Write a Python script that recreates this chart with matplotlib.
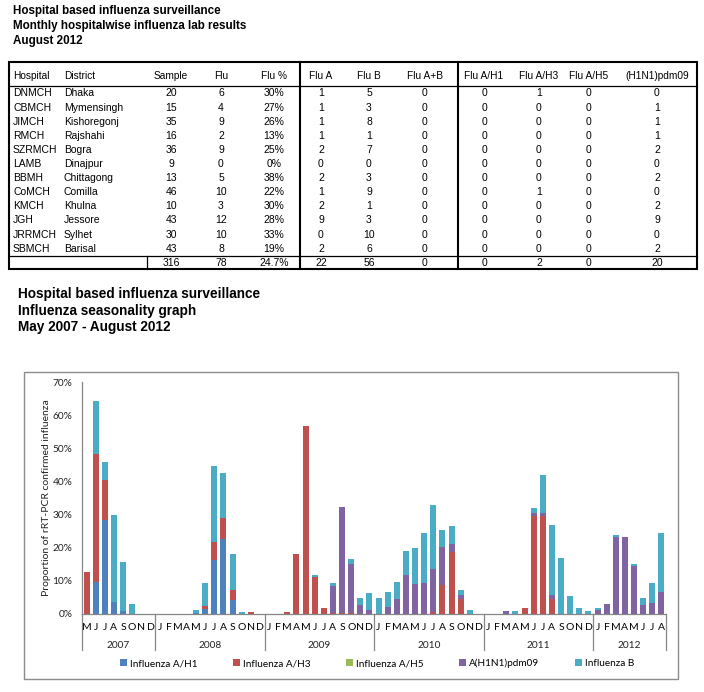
import numpy as np
import matplotlib.pyplot as plt
from matplotlib.patches import Rectangle
from matplotlib.transforms import blended_transform_factory

# --- table data (August 2012)
hospitals = ['DNMCH', 'CBMCH', 'JIMCH', 'RMCH', 'SZRMCH', 'LAMB', 'BBMH', 'CoMCH',
             'KMCH', 'JGH', 'JRRMCH', 'SBMCH']
districts = ['Dhaka', 'Mymensingh', 'Kishoregonj', 'Rajshahi', 'Bogra', 'Dinajpur',
             'Chittagong', 'Comilla', 'Khulna', 'Jessore', 'Sylhet', 'Barisal']
sample = [20, 15, 35, 16, 36, 9, 13, 46, 10, 43, 30, 43]
flu = [6, 4, 9, 2, 9, 0, 5, 10, 3, 12, 10, 8]
flu_pct = ['30%', '27%', '26%', '13%', '25%', '0%', '38%', '22%', '30%', '28%', '33%', '19%']
flu_a = [1, 1, 1, 1, 2, 0, 2, 1, 2, 9, 0, 2]
flu_b = [5, 3, 8, 1, 7, 0, 3, 9, 1, 3, 10, 6]
flu_ab = [0] * 12
flu_h1 = [0] * 12
flu_h3 = [1, 0, 0, 0, 0, 0, 0, 1, 0, 0, 0, 0]
flu_h5 = [0] * 12
flu_pdm = [0, 1, 1, 1, 2, 0, 2, 0, 2, 9, 0, 2]
total_pct = '24.7%'

headers = ['Hospital', 'District', 'Sample', 'Flu', 'Flu %', 'Flu A', 'Flu B', 'Flu A+B',
           'Flu A/H1', 'Flu A/H3', 'Flu A/H5', '(H1N1)pdm09']

# --- seasonality graph data, % of samples, May 2007 - Aug 2012
years = ['2007', '2008', '2009', '2010', '2011', '2012']
month_letters = list('MJJASOND') + list('JFMAMJJASOND') * 4 + list('JFMAMJJA')

h1 = [0, 9.5, 28.4, 3.4, 0.9, 0, 0, 0,
      0, 0, 0, 0, 0.3, 1.3, 16.1, 22.5, 4.1, 0, 0, 0,
      0, 0, 0, 0, 0, 0, 0, 0, 0, 0, 0, 0,
      0, 0, 0, 0, 0, 0, 0, 0, 0, 0, 0, 0,
      0, 0, 0, 0, 0, 0, 0, 0, 0, 0, 0, 0,
      0, 0, 0, 0, 0, 0, 0, 0]
h3 = [12.7, 38.6, 11.9, 0, 0, 0, 0, 0,
      0, 0, 0, 0, 0, 1.1, 5.7, 6.4, 3.1, 0, 0.5, 0,
      0, 0, 0.4, 18.1, 56.8, 11.2, 1.7, 0.2, 0.3, 0.3, 0, 0,
      0, 0, 0, 0, 0, 0, 0.6, 8.7, 18.6, 4.4, 0, 0,
      0, 0, 0, 0, 1.6, 29.5, 29.5, 4.5, 0, 0, 0, 0,
      0, 0, 0, 0, 0, 0, 0, 0]
h5 = [0] * 64
pdm = [0, 0, 0, 0, 0, 0, 0, 0,
       0, 0, 0, 0, 0, 0, 0, 0, 0, 0, 0, 0,
       0, 0, 0, 0, 0, 0, 0, 8.3, 32.0, 14.8, 2.6, 1.1,
       0, 1.9, 4.5, 11.6, 8.9, 9.2, 13.0, 11.5, 2.5, 1.1, 0, 0,
       0, 0, 0.7, 0, 0, 1.0, 1.0, 1.0, 0, 0, 0, 0,
       1.1, 2.9, 23.1, 23.3, 14.3, 2.7, 3.2, 6.7]
flu_b_m = [0, 16.2, 5.4, 26.5, 14.8, 3.0, 0, 0,
           0, 0, 0, 0, 0.8, 7.0, 22.7, 13.7, 10.8, 0.5, 0, 0,
           0, 0, 0, 0, 0, 0.6, 0, 0.8, 0, 1.5, 2.0, 5.1,
           4.6, 4.8, 5.2, 7.2, 10.9, 15.1, 19.1, 5.0, 5.3, 1.7, 1.0, 0,
           0, 0, 0, 0.7, 0, 1.3, 11.3, 21.3, 16.8, 5.2, 1.6, 0.7,
           0.6, 0, 0.8, 0, 0.7, 1.9, 6.0, 17.8]

series = [('Influenza A/H1', h1, '#4F81BD'),
          ('Influenza A/H3', h3, '#C0504D'),
          ('Influenza A/H5', h5, '#9BBB59'),
          ('A(H1N1)pdm09', pdm, '#8064A2'),
          ('Influenza B', flu_b_m, '#4BACC6')]

W, H = 704, 692
fig = plt.figure(figsize=(W / 100, H / 100), dpi=100)
bg = fig.add_axes([0, 0, 1, 1])
bg.set_xlim(0, W)
bg.set_ylim(H, 0)
bg.axis('off')

tfont = 'Liberation Sans'
for y, s in zip([11, 26, 41], ['Hospital based influenza surveillance',
                               'Monthly hospitalwise influenza lab results',
                               'August 2012']):
    bg.text(13, y, s, fontsize=8.4, fontweight='bold', family=tfont, va='center')

# table
col_x = [13, 64, 171, 221, 274, 321, 369, 425, 484, 539, 589, 657]
col_ha = ['left', 'left'] + ['center'] * 10
for x, ha, h in zip(col_x, col_ha, headers):
    bg.text(x, 76, h, fontsize=7.3, family=tfont, ha=ha, va='center')

rows = list(zip(hospitals, districts, sample, flu, flu_pct, flu_a, flu_b, flu_ab,
                flu_h1, flu_h3, flu_h5, flu_pdm))
for i, r in enumerate(rows):
    y = 93.5 + 14.1 * i
    for x, ha, v in zip(col_x, col_ha, r):
        bg.text(x, y, str(v), fontsize=7.5, family=tfont, ha=ha, va='center')

totals = [sum(sample), sum(flu), total_pct, sum(flu_a), sum(flu_b), sum(flu_ab),
          sum(flu_h1), sum(flu_h3), sum(flu_h5), sum(flu_pdm)]
for x, v in zip(col_x[2:], totals):
    bg.text(x, 262.5, str(v), fontsize=7.5, family=tfont, ha='center', va='center')

bg.add_patch(Rectangle((9, 62), 688, 207, fill=False, ec='black', lw=1.5))
bg.plot([9, 697], [86, 86], color='black', lw=0.9)
bg.plot([9, 697], [256, 256], color='black', lw=0.9)
bg.plot([147, 147], [256, 269], color='black', lw=0.9)
for x in [300, 458]:
    bg.plot([x, x], [62, 269], color='black', lw=1.5)

for y, s in zip([294, 310.5, 327], ['Hospital based influenza surveillance',
                                    'Influenza seasonality graph',
                                    'May 2007 - August 2012']):
    bg.text(18, y, s, fontsize=9.8, fontweight='bold', family=tfont, va='center')

# chart frame
bg.add_patch(Rectangle((24, 372), 654, 307, fill=False, ec='#8c8c8c', lw=1))

cfont = 'Lato'
y0, y70 = 613.7, 382
ax = fig.add_axes([82 / W, (H - y0) / H, (666 - 82) / W, (y0 - y70) / H])
ax.set_facecolor('none')
x = np.arange(len(month_letters))
bottom = np.zeros(len(x))
handles = []
for name, vals, col in series:
    vals = np.array(vals)
    b = ax.bar(x, vals, 0.65, bottom=bottom, color=col, label=name)
    handles.append(b)
    bottom += vals

ax.set_xlim(-0.5, len(x) - 0.5)
ax.set_ylim(0, 70)
ax.set_yticks(range(0, 71, 10))
ax.set_yticklabels([f'{v}%' for v in range(0, 71, 10)], family=cfont, fontsize=7.3, color='#222')
ax.set_xticks(x)
ax.set_xticklabels(month_letters, family=cfont, fontsize=7.5, color='black')
ax.tick_params(axis='y', length=0, pad=7)
ax.tick_params(axis='x', length=0, pad=6.5)
for s in ['top', 'right']:
    ax.spines[s].set_visible(False)
for s in ['left', 'bottom']:
    ax.spines[s].set_color('#868686')
    ax.spines[s].set_linewidth(0.9)

tr = blended_transform_factory(ax.transData, ax.transAxes)
ysep = -(650 - y0) / (y0 - y70)
bounds = [-0.5, 7.5, 19.5, 31.5, 43.5, 55.5, len(x) - 0.5]
for bx in bounds:
    ax.plot([bx, bx], [0, ysep], color='#868686', lw=0.9, transform=tr, clip_on=False)
yyr = -(645 - y0) / (y0 - y70)
for i, yr in enumerate(years):
    ax.text((bounds[i] + bounds[i + 1]) / 2, yyr, yr, transform=tr, ha='center', va='center',
            family=cfont, fontsize=7.3, color='#222')

bg.text(47, 498, 'Proportion of rRT-PCR confirmed influenza', rotation=90, ha='center',
        va='center', family=cfont, fontsize=7.5, color='#222')

fig.legend(handles=handles, loc='center', bbox_to_anchor=(377 / W, (H - 663.5) / H), ncol=5,
           frameon=False, handlelength=0.75, handleheight=0.75, handletextpad=0.3,
           columnspacing=3.5, prop={'family': cfont, 'size': 7.2})

fig.savefig('out.png', dpi=100)
